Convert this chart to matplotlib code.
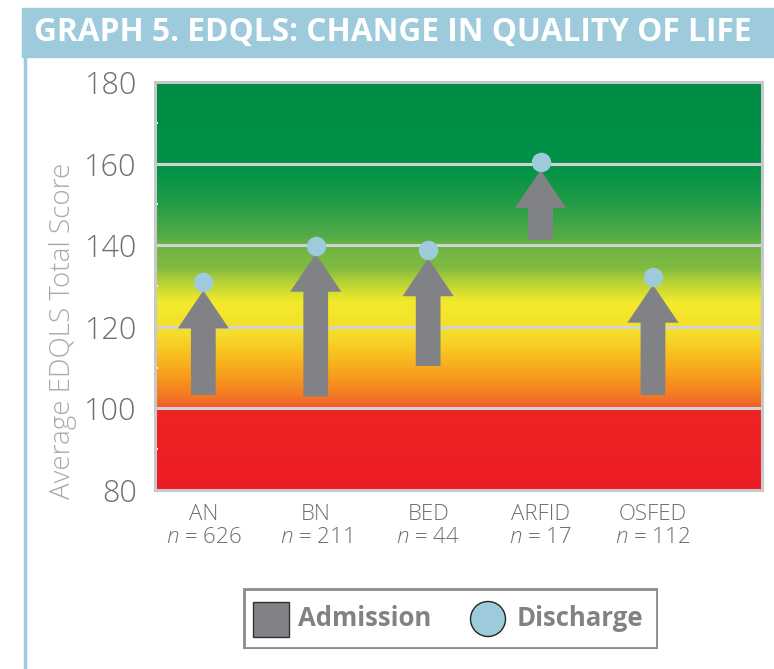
import numpy as np
import matplotlib
matplotlib.use("Agg")
from matplotlib import pyplot as plt
from matplotlib.colors import LinearSegmentedColormap
from matplotlib.patches import FancyArrow, Rectangle, Circle
from matplotlib.lines import Line2D

plt.rcParams['font.family'] = ['Open Sans', 'DejaVu Sans']
plt.rcParams['mathtext.fontset'] = 'custom'
plt.rcParams['mathtext.rm'] = 'Open Sans:light'
plt.rcParams['mathtext.it'] = 'Open Sans:italic:light'

# average EDQLS total score per diagnosis
categories = ['AN', 'BN', 'BED', 'ARFID', 'OSFED']
n_patients = [626, 211, 44, 17, 112]
admission = [103.3, 102.9, 110.4, 141.3, 103.3]
discharge = [130.9, 139.9, 138.8, 160.4, 132.3]

GREY = '#808285'
BLUE = '#9dcbdc'
TXT = '#6d6e71'

W, H = 774, 669
fig = plt.figure(figsize=(W / 100, H / 100), dpi=100)

# title banner and side rule
fig.patches.append(Rectangle((22 / W, 1 - 57 / H), 1 - 22 / W, 49 / H,
                             transform=fig.transFigure, color=BLUE, zorder=0))
fig.lines.append(Line2D([25 / W, 25 / W], [0, 1 - 57 / H], transform=fig.transFigure,
                        color=BLUE, lw=2.5))
fig.text(34 / W, 1 - 33 / H, 'GRAPH 5. EDQLS: CHANGE IN QUALITY OF LIFE',
         color='white', fontsize=22.8, fontweight='bold', va='center', ha='left')

ax = fig.add_axes([155 / W, 1 - 490 / H, (762 - 155) / W, (490 - 82) / H])
x0, x1 = -0.43, 4.97
ax.set_xlim(x0, x1)
ax.set_ylim(80, 180)

# red -> yellow -> green background
stops = [(0.0, '#ed1c24'), (0.199, '#ee2424'), (0.2, '#f15a29'), (0.23, '#f37a22'),
         (0.27, '#f7961d'), (0.32, '#f9b81e'), (0.38, '#f6dc2a'), (0.46, '#f3ea2c'),
         (0.51, '#b7d236'), (0.545, '#80bb41'), (0.6, '#6db444'), (0.62, '#55ab47'),
         (0.72, '#1a9a48'), (0.8, '#009147'), (1.0, '#008c45')]
cmap = LinearSegmentedColormap.from_list('qol', stops)
grad = np.linspace(0, 1, 600).reshape(-1, 1)
ax.imshow(grad, cmap=cmap, extent=[x0, x1, 80, 180], origin='lower',
          aspect='auto', zorder=0, interpolation='bilinear')

for y in [100, 120, 140, 160]:
    ax.axhline(y, color='#d1d3d4', lw=2.2, zorder=1)

xs = np.arange(len(categories))
for x, a, d in zip(xs, admission, discharge):
    tip = d - 2.0
    ax.add_patch(FancyArrow(x, a, 0, tip - a, width=0.22, head_width=0.455,
                            head_length=9.3, length_includes_head=True,
                            color=GREY, lw=0, zorder=3))
ax.plot(xs, discharge, 'o', ms=14, color=BLUE, mec='none', zorder=4)

for s in ax.spines.values():
    s.set_color('#c7c8ca')
    s.set_linewidth(2.2)

ax.set_yticks([80, 100, 120, 140, 160, 180])
ax.set_yticks([90, 110, 130, 150, 170], minor=True)
ax.tick_params(axis='y', which='major', length=0, pad=13, labelsize=22, labelcolor=TXT)
ax.tick_params(axis='y', which='minor', direction='in', length=2, width=1.5, color='white')
for lab in ax.get_yticklabels():
    lab.set_fontweight('light')

ax.set_xticks(xs)
ax.set_xticklabels([f'{c}\n$n$ = {n}' for c, n in zip(categories, n_patients)],
                   fontsize=16, color=TXT, fontweight='light', linespacing=1.15)
ax.tick_params(axis='x', length=0, pad=10)

ax.set_ylabel('Average EDQLS Total Score', fontsize=20, color='#a7a9ac',
              fontweight='light')
ax.yaxis.set_label_coords(-0.128, 0.39)

# legend box
lax = fig.add_axes([243 / W, 1 - 649 / H, (658 - 243) / W, 61 / H])
lax.set_xlim(0, 415)
lax.set_ylim(0, 61)
lax.axis('off')
lax.add_patch(Rectangle((1, 1), 413, 59, fill=False, ec='#8a8c8e', lw=2))
lax.add_patch(Rectangle((10, 12), 36, 35, fc=GREY, ec='#333333', lw=1))
lax.text(55, 30, 'Admission', fontsize=18.5, fontweight='bold', color=GREY,
         va='center', ha='left')
lax.add_patch(Circle((245, 30), 17.5, fc=BLUE, ec='#222222', lw=1))
lax.text(274, 30, 'Discharge', fontsize=18.5, fontweight='bold', color=GREY,
         va='center', ha='left')

fig.savefig('out.png', dpi=100)
